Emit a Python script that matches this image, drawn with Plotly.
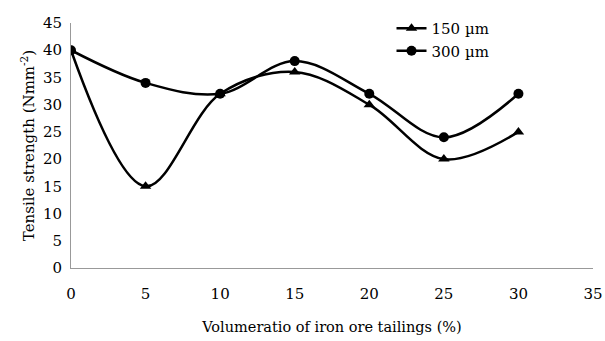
import plotly.graph_objects as go

ratio = [0, 5, 10, 15, 20, 25, 30]
s150 = [40, 15, 32, 36, 30, 20, 25]
s300 = [40, 34, 32, 38, 32, 24, 32]
names = ["150 µm", "300 µm"]

font = "DejaVu Serif"
fig = go.Figure()
fig.add_trace(go.Scatter(x=ratio, y=s150, name=names[0], mode="lines+markers",
                         line=dict(color="black", width=2.5, shape="spline", smoothing=1.0),
                         marker=dict(symbol="triangle-up", size=10, color="black")))
fig.add_trace(go.Scatter(x=ratio, y=s300, name=names[1], mode="lines+markers",
                         line=dict(color="black", width=2.5, shape="spline", smoothing=1.0),
                         marker=dict(symbol="circle", size=10, color="black")))
fig.update_layout(
    width=605, height=341,
    margin=dict(l=71, r=12, t=18, b=73),
    paper_bgcolor="white", plot_bgcolor="white",
    font=dict(family=font, size=15, color="black"),
    showlegend=True,
    legend=dict(x=0.614, y=1.045, xanchor="left", yanchor="top", bgcolor="rgba(0,0,0,0)",
                font=dict(family=font, size=15), tracegroupgap=2, itemwidth=30),
    xaxis=dict(range=[0, 35], tickvals=[0, 5, 10, 15, 20, 25, 30, 35], showgrid=False,
               zeroline=False, showline=True, linecolor="#999999", linewidth=1,
               ticks="outside", ticklen=12, tickcolor="rgba(0,0,0,0)", automargin=False,
               tickfont=dict(family=font, size=15),
               title=dict(text="Volumeratio of iron ore tailings (%)",
                          font=dict(family=font, size=14.5), standoff=19)),
    yaxis=dict(range=[0, 45], tickvals=list(range(0, 50, 5)), showgrid=False,
               zeroline=False, showline=True, linecolor="#999999", linewidth=1,
               ticks="outside", ticklen=5, tickcolor="rgba(0,0,0,0)", automargin=False,
               tickfont=dict(family=font, size=15),
               title=dict(text="Tensile strength (Nmm<sup>-2</sup>)",
                          font=dict(family=font, size=15), standoff=4)),
)
fig.write_html("out.html", config={"displayModeBar": False},
               post_script="document.body.style.margin='0';")
